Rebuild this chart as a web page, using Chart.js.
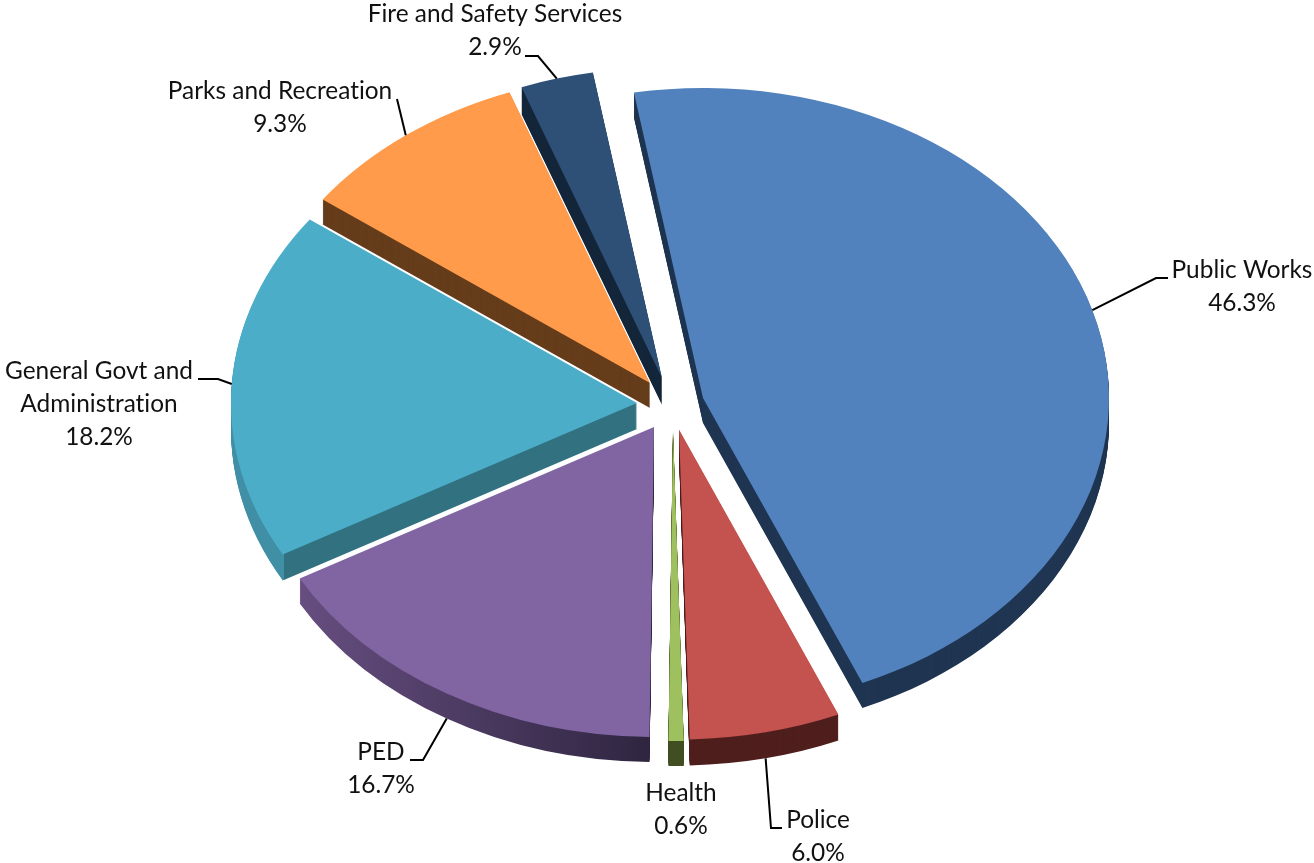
<!DOCTYPE html>
<html>
<head>
<meta charset="utf-8">
<style>
  html, body { margin: 0; padding: 0; background: #fff; }
  canvas { display: block; }
</style>
<script src="https://cdn.jsdelivr.net/npm/chart.js@4/dist/chart.umd.js"></script>
</head>
<body>
<canvas id="pie" width="1314" height="863"></canvas>
<script>
const categories = ['Public Works', 'Police', 'Health', 'PED', 'General Govt and Administration', 'Parks and Recreation', 'Fire and Safety Services'];
const shares = [46.3, 6.0, 0.6, 16.7, 18.2, 9.3, 2.9];

const topColors = ['#5282BE', '#C4524F', '#9FC05F', '#8165A3', '#4BADC8', '#FF9B4A', '#2E5077'];
const sideColors = ['#1F3551', '#4F1F1D', '#404E22', null, null, '#663D1B', '#14263A'];

// ── 3D look: flatten the pie and pull every slice to its own spot ──
const squash = 310 / 406;
const sliceCentres = [[703, 398], [679, 429.5], [673, 431], [654, 427], [637, 403], [650, 383], [662, 378]];
const sliceDepths = [25, 26, 25, 25, 26, 25, 27];

// label lines, text centre x, first line y, then leader elbow + end (no leader for Health)
const labelLines = [['Public Works'], ['Police'], ['Health'], ['PED'], ['General Govt and', 'Administration'], ['Parks and Recreation'], ['Fire and Safety Services']];
const labelSpots = [[1242, 270], [818, 820], [681, 793], [381, 752], [99, 371], [280, 91], [495, 14]];
const leaderBends = [[[1156, 278], [1168, 278]], [[771, 828], [782, 828]], null, [[423, 760], [410, 760]], [[218, 379], [198, 379]], [[397, 99], [397, 99]], [[538, 56], [525, 56]]];

function sideFill(ctx, i, shiftX) {
    if (i === 3) {
        const g = ctx.createLinearGradient(300 - shiftX, 0, 652 - shiftX, 0);
        g.addColorStop(0, '#664E80');
        g.addColorStop(1, '#2F2540');
        return g;
    }
    if (i === 4) {
        const g = ctx.createLinearGradient(232 - shiftX, 0, 640 - shiftX, 0);
        const cut = (284 - 232) / (640 - 232);
        g.addColorStop(0, '#418FA6');
        g.addColorStop(cut, '#3F8FA5');
        g.addColorStop(cut, '#327180');
        g.addColorStop(1, '#327180');
        return g;
    }
    return sideColors[i];
}

function placeSlice(ctx, arc, i, drop) {
    const [cx, cy] = sliceCentres[i];
    ctx.translate(cx, cy + drop);
    ctx.scale(1, squash);
    ctx.translate(-arc.x, -arc.y);
}

const pie3d = {
    id: 'pie3d',
    beforeDatasetsDraw(chart) {
        const ctx = chart.ctx;
        const arcs = chart.getDatasetMeta(0).data;

        // side walls first, all of them, tops go over
        arcs.forEach((arc, i) => {
            const saved = arc.options;
            const shiftX = sliceCentres[i][0] - arc.x;
            arc.options = { ...saved, backgroundColor: sideFill(ctx, i, shiftX) };
            for (let d = sliceDepths[i]; d > 0; d--) {
                ctx.save();
                placeSlice(ctx, arc, i, d);
                arc.draw(ctx);
                ctx.restore();
            }
            arc.options = saved;
        });
        arcs.forEach((arc, i) => {
            ctx.save();
            placeSlice(ctx, arc, i, 0);
            arc.draw(ctx);
            ctx.restore();
        });
        return false;
    },
    afterDraw(chart) {
        const ctx = chart.ctx;
        const arcs = chart.getDatasetMeta(0).data;
        ctx.save();
        ctx.font = '24.4px Lato';
        ctx.textRendering = 'optimizeSpeed';
        ctx.fillStyle = '#111';
        ctx.textAlign = 'center';
        ctx.textBaseline = 'middle';
        arcs.forEach((arc, i) => {
            const lines = [...labelLines[i], shares[i].toFixed(1) + '%'];
            const [tx, ty] = labelSpots[i];
            lines.forEach((line, n) => ctx.fillText(line, tx, ty + n * 33));

            if (!leaderBends[i]) return;
            // leader starts on the rim at the middle of the slice
            const mid = (arc.startAngle + arc.endAngle) / 2;
            const [cx, cy] = sliceCentres[i];
            const sx = cx + Math.cos(mid) * arc.outerRadius;
            const sy = cy + Math.sin(mid) * arc.outerRadius * squash + (Math.sin(mid) > 0 ? sliceDepths[i] : 0);
            ctx.beginPath();
            ctx.moveTo(sx, sy);
            leaderBends[i].forEach(p => ctx.lineTo(p[0], p[1]));
            ctx.strokeStyle = '#000';
            ctx.lineWidth = 2;
            ctx.stroke();
        });
        ctx.restore();
    }
};

new Chart(document.getElementById('pie'), {
    type: 'pie',
    data: {
        labels: categories,
        datasets: [{
            data: shares,
            backgroundColor: topColors,
            borderWidth: 0,
            radius: 406
        }]
    },
    options: {
        responsive: false,
        animation: false,
        rotation: -9.8,
        plugins: { legend: { display: false }, tooltip: { enabled: false } }
    },
    plugins: [pie3d]
});
</script>
</body>
</html>
